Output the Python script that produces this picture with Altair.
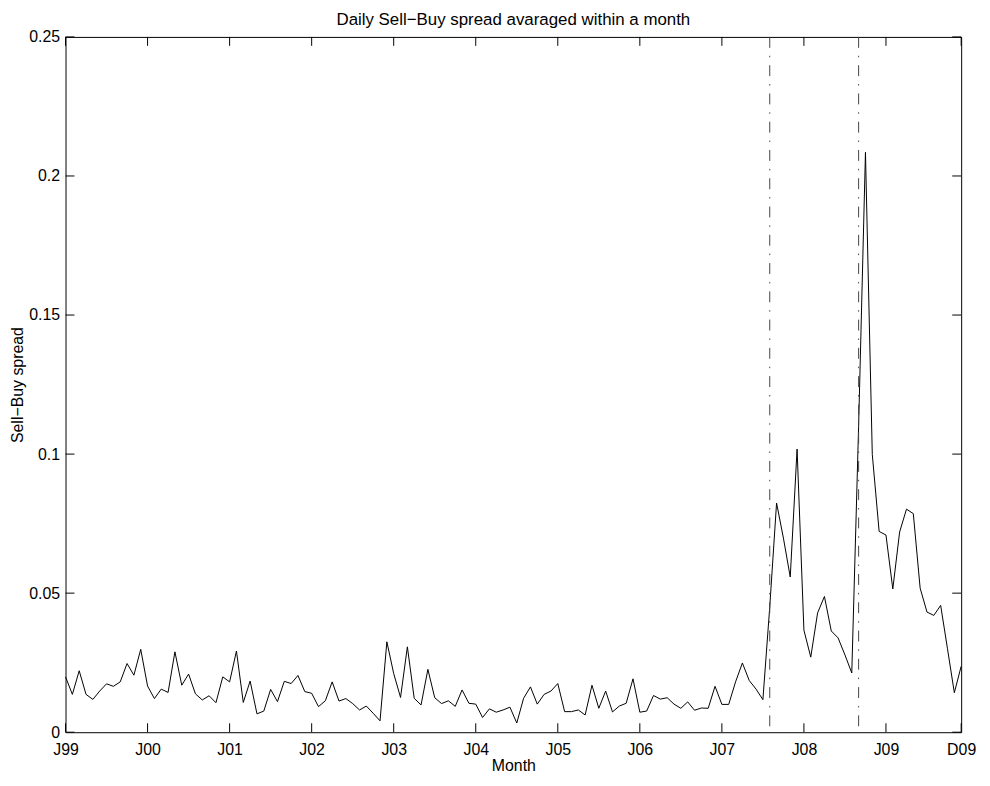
import json
import altair as alt
import pandas as pd

# ---- data ----
months = list(range(132))  # J99 (0) ... D09 (131)
spread = [
    0.0199, 0.0136, 0.0221, 0.0136, 0.0118, 0.0148, 0.0174, 0.0165, 0.0181, 0.0247, 0.0205, 0.0298,
    0.0166, 0.0121, 0.0155, 0.0143, 0.0289, 0.0169, 0.0209, 0.0138, 0.0116, 0.0131, 0.0106, 0.0199,
    0.0181, 0.0292, 0.0107, 0.0184, 0.0066, 0.0076, 0.0154, 0.0110, 0.0183, 0.0175, 0.0204, 0.0146,
    0.0140, 0.0092, 0.0113, 0.0181, 0.0112, 0.0121, 0.0103, 0.0080, 0.0094, 0.0068, 0.0041, 0.0325,
    0.0211, 0.0125, 0.0307, 0.0122, 0.0098, 0.0226, 0.0124, 0.0103, 0.0113, 0.0093, 0.0152, 0.0104,
    0.0101, 0.0053, 0.0084, 0.0072, 0.0080, 0.0090, 0.0033, 0.0122, 0.0163, 0.0101, 0.0136, 0.0148,
    0.0175, 0.0074, 0.0074, 0.0080, 0.0062, 0.0169, 0.0086, 0.0148, 0.0073, 0.0094, 0.0104, 0.0192,
    0.0072, 0.0076, 0.0132, 0.0119, 0.0124, 0.0101, 0.0086, 0.0109, 0.0079, 0.0087, 0.0086, 0.0165,
    0.0100, 0.0100, 0.0181, 0.0249, 0.0186, 0.0155, 0.0117, 0.0450, 0.0824, 0.0698, 0.0558, 0.1018,
    0.0367, 0.0270, 0.0429, 0.0488, 0.0364, 0.0339, 0.0278, 0.0213, 0.1100, 0.2085, 0.0999, 0.0722,
    0.0709, 0.0515, 0.0720, 0.0802, 0.0786, 0.0518, 0.0432, 0.0420, 0.0456, 0.0300, 0.0142, 0.0237,
]
x_tick_values = [0, 12, 24, 36, 48, 60, 72, 84, 96, 108, 120, 131]
x_tick_labels = ["J99", "J00", "J01", "J02", "J03", "J04", "J05", "J06", "J07", "J08", "J09", "D09"]
y_tick_values = [0, 0.05, 0.1, 0.15, 0.2, 0.25]
event_months = [103, 116]

FONT = "Liberation Sans"
W, H = 903, 701
TICK = 9

df = pd.DataFrame({"month": months, "spread": spread})
df_ev = pd.DataFrame({"month": event_months})
df_xt = pd.DataFrame({"month": x_tick_values})
df_yt = pd.DataFrame({"spread": y_tick_values})

xscale = alt.Scale(domain=[0, 131], nice=False, zero=False)
yscale = alt.Scale(domain=[0, 0.25], nice=False)

label_expr = json.dumps(x_tick_labels) + "[round(datum.value/12)]"

xaxis = alt.Axis(values=x_tick_values, labelExpr=label_expr, title="Month",
                 tickSize=0, domain=False, grid=False, labelPadding=9,
                 titlePadding=1, labelFlush=False)
yaxis = alt.Axis(values=y_tick_values, format=".2~f", title="Sell\u2212Buy spread",
                 tickSize=0, domain=False, grid=False, labelPadding=6,
                 titlePadding=3)

X = alt.X("month:Q", scale=xscale, axis=xaxis)
Y = alt.Y("spread:Q", scale=yscale, axis=yaxis)

line = alt.Chart(df).mark_line(color="black", strokeWidth=1).encode(x=X, y=Y)

events = alt.Chart(df_ev).mark_rule(color="#444444", strokeWidth=1,
                                    strokeDash=[11, 8, 1.5, 8]).encode(x=X)

tick_style = dict(color="black", strokeWidth=1)
xt_bottom = alt.Chart(df_xt).mark_rule(**tick_style).encode(
    x=X, y=alt.value(H), y2=alt.value(H - TICK))
xt_top = alt.Chart(df_xt).mark_rule(**tick_style).encode(
    x=X, y=alt.value(0), y2=alt.value(TICK))
yt_left = alt.Chart(df_yt).mark_rule(**tick_style).encode(
    y=Y, x=alt.value(0), x2=alt.value(TICK))
yt_right = alt.Chart(df_yt).mark_rule(**tick_style).encode(
    y=Y, x=alt.value(W), x2=alt.value(W - TICK))

chart = alt.layer(line, events, xt_bottom, xt_top, yt_left, yt_right).properties(
    width=W, height=H,
    title=alt.TitleParams("Daily Sell\u2212Buy spread avaraged within a month",
                          font=FONT, fontSize=17, fontWeight="normal", color="black",
                          offset=0),
    autosize=alt.AutoSizeParams(type="none"),
    padding={"left": 58, "top": 26, "right": 21, "bottom": 43},
    background="white",
).configure_view(stroke="black", strokeWidth=1).configure_axis(
    labelFont=FONT, titleFont=FONT, labelFontSize=16, titleFontSize=16,
    labelColor="black", titleColor="black", titleFontWeight="normal",
)

chart.save("out.html", embed_options={"renderer": "svg", "actions": False})
